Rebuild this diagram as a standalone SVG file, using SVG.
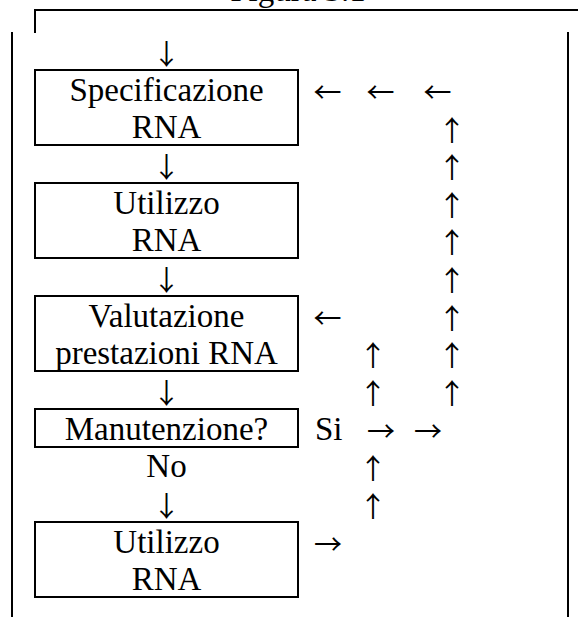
<svg xmlns="http://www.w3.org/2000/svg" width="578" height="617" viewBox="0 0 578 617">
  <style>
    .frame { fill: none; stroke: #000; stroke-width: 2; }
    .box { fill: #fff; stroke: #000; stroke-width: 2; }
    .t { font-family: "Liberation Serif", "Times New Roman", serif; font-size: 33px; fill: #000; }
    .c { text-anchor: middle; }
    .arr { font-family: "Noto Sans CJK JP", "DejaVu Sans", sans-serif; font-size: 28px; fill: #000; text-anchor: middle; }
  </style>
  <rect width="578" height="617" fill="#fff"/>

  <!-- caption, clipped at the top edge -->
  <text class="t c" x="298" y="1">Figura 3.1</text>

  <!-- outer frame -->
  <g id="frame">
    <path class="frame" d="M35 33 V10 H578"/>
    <line class="frame" x1="12" y1="32" x2="12" y2="617"/>
    <line class="frame" x1="568" y1="32" x2="568" y2="617"/>
  </g>

  <!-- process steps -->
  <g id="spec">
    <rect class="box" x="35" y="70" width="263" height="75"/>
    <text class="t c" x="166.5" y="100.5">Specificazione</text>
    <text class="t c" x="166.5" y="138">RNA</text>
  </g>
  <g id="use1">
    <rect class="box" x="35" y="183" width="263" height="75"/>
    <text class="t c" x="166.5" y="213.5">Utilizzo</text>
    <text class="t c" x="166.5" y="251">RNA</text>
  </g>
  <g id="eval">
    <rect class="box" x="35" y="296" width="263" height="75"/>
    <text class="t c" x="166.5" y="326.5">Valutazione</text>
    <text class="t c" x="166.5" y="364">prestazioni RNA</text>
  </g>
  <g id="maint">
    <rect class="box" x="35" y="409" width="263" height="38"/>
    <text class="t c" x="166.5" y="439.5">Manutenzione?</text>
  </g>
  <g id="use2">
    <rect class="box" x="35" y="522" width="263" height="75"/>
    <text class="t c" x="166.5" y="552.5">Utilizzo</text>
    <text class="t c" x="166.5" y="590">RNA</text>
  </g>

  <!-- branch labels -->
  <g id="labels">
    <text class="t" x="315" y="439.5">Si</text>
    <text class="t c" x="166.5" y="477">No</text>
  </g>

  <!-- connectors, set as arrow characters -->
  <g id="connectors">
    <!-- main flow -->
    <text class="arr" x="166.5" y="64.6">↓</text>
    <text class="arr" x="166.5" y="177.6">↓</text>
    <text class="arr" x="166.5" y="290.6">↓</text>
    <text class="arr" x="166.5" y="403.6">↓</text>
    <text class="arr" x="166.5" y="516.6">↓</text>

    <!-- return into specification -->
    <text class="arr" x="327.5" y="102.6">←</text>
    <text class="arr" x="380.5" y="102.6">←</text>
    <text class="arr" x="437.5" y="102.6">←</text>

    <!-- outer return column -->
    <text class="arr" x="452" y="140.6">↑</text>
    <text class="arr" x="452" y="178.1">↑</text>
    <text class="arr" x="452" y="215.6">↑</text>
    <text class="arr" x="452" y="253.1">↑</text>
    <text class="arr" x="452" y="290.6">↑</text>
    <text class="arr" x="452" y="328.6">↑</text>
    <text class="arr" x="452" y="366.1">↑</text>
    <text class="arr" x="452" y="403.6">↑</text>

    <!-- return into evaluation -->
    <text class="arr" x="327.5" y="328.6">←</text>
    <text class="arr" x="373" y="366.1">↑</text>
    <text class="arr" x="373" y="403.6">↑</text>

    <!-- yes branch -->
    <text class="arr" x="381" y="441.6">→</text>
    <text class="arr" x="428" y="441.6">→</text>

    <!-- from second use -->
    <text class="arr" x="373" y="479.1">↑</text>
    <text class="arr" x="373" y="516.6">↑</text>
    <text class="arr" x="328" y="554.6">→</text>
  </g>
</svg>
